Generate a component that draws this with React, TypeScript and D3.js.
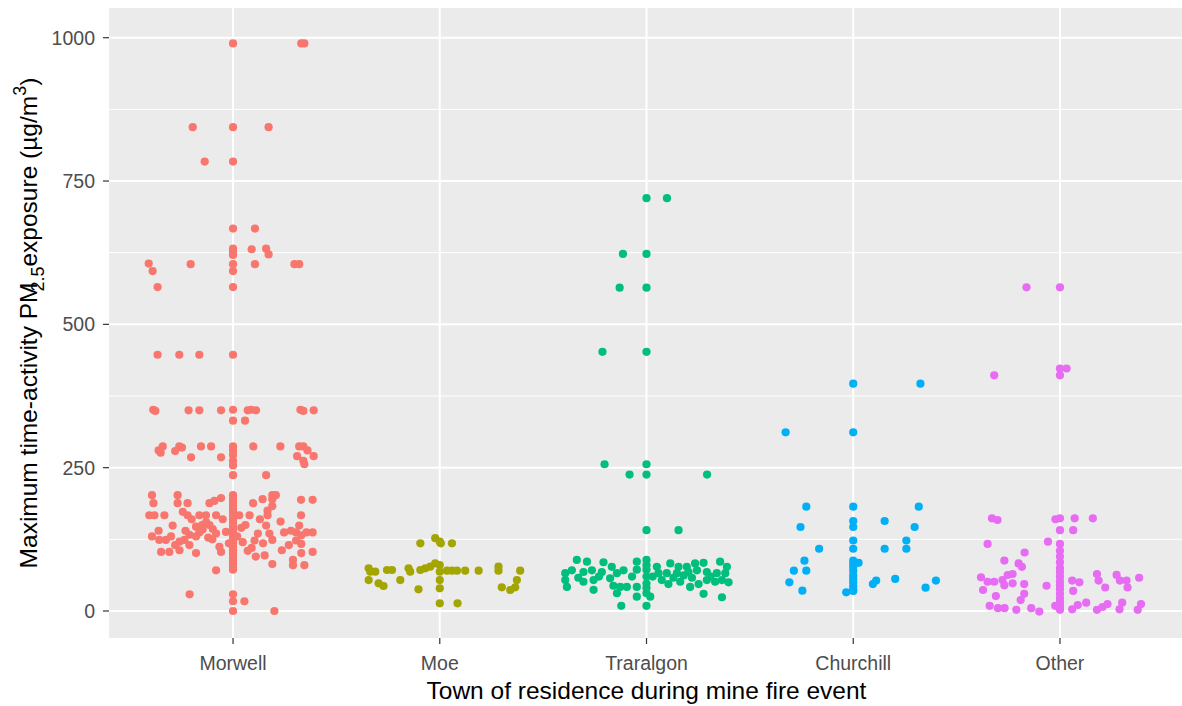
import React from 'react';
import * as d3 from 'd3';

const categories = ['Morwell', 'Moe', 'Traralgon', 'Churchill', 'Other'];
const colors = ['#F8766D', '#A3A500', '#00BF7D', '#00B0F6', '#E76BF3'];
const yTicks = [0, 250, 500, 750, 1000];
const yMinor = [125, 375, 625, 875];

// [jitter offset (in category steps), PM2.5 value]
const morwell: [number, number][] = [
  [0, 990], [0.33, 990], [0.345, 990],
  [-0.195, 844], [0, 844], [0.172, 844],
  [-0.137, 784], [0, 784],
  [0, 667], [0.106, 667],
  [0, 632], [0, 627], [0, 621], [0.09, 631], [0.16, 632], [0.172, 622],
  [-0.408, 606], [-0.389, 593], [-0.365, 565], [-0.205, 605], [0, 605], [0, 593], [0, 565],
  [0.106, 605], [0.297, 605], [0.32, 605],
  [-0.365, 447], [-0.26, 447], [-0.163, 447], [0, 447],
  [-0.386, 351], [-0.376, 349], [-0.215, 350], [-0.163, 350], [-0.058, 350], [0, 351],
  [0.071, 350], [0.087, 351], [0.111, 350], [0.326, 351], [0.34, 349], [0.39, 350],
  [0, 332], [0.058, 332],
  [-0.36, 280], [-0.34, 287], [-0.35, 276], [-0.28, 279], [-0.26, 287], [-0.247, 285],
  [-0.155, 287], [-0.106, 287], [0, 287], [0, 280], [0, 272], [0, 262], [0, 254],
  [0.098, 287], [0.229, 287], [0.32, 287], [0.34, 287], [0.36, 280],
  [-0.203, 268], [-0.058, 268], [0.31, 270], [0.34, 262], [0.39, 270], [0.345, 256],
  [0, 237], [0.16, 237],
  [0, 202], [0, 196], [0, 190], [0, 184], [0, 178], [0, 172], [0, 166], [0, 160], [0, 154],
  [0, 148], [0, 142], [0, 136], [0, 130], [0, 124], [0, 118], [0, 112], [0, 106], [0, 100],
  [0, 94], [0, 88], [0, 82], [0, 76], [0, 72],
  [-0.392, 202], [-0.385, 188], [-0.268, 202], [-0.268, 188], [-0.22, 188],
  [-0.405, 167], [-0.38, 167], [-0.332, 167], [-0.243, 173], [-0.22, 167],
  [-0.292, 149], [-0.163, 167], [-0.131, 167], [-0.082, 167],
  [-0.114, 188], [-0.09, 192], [-0.058, 197],
  [0.03, 167], [0.097, 188], [0.143, 195], [0.19, 202], [0.207, 202], [0.19, 195], [0.19, 183],
  [0.167, 175], [0.167, 167], [0.08, 167],
  [0.23, 156], [0.247, 137], [0.16, 149], [0.176, 135], [0.19, 124],
  [0.329, 194], [0.385, 194], [0.329, 167], [0.32, 149],
  [0.305, 137], [0.33, 132], [0.355, 137], [0.385, 137], [0.305, 123], [0.33, 117],
  [0.385, 103], [0.33, 101], [0.29, 89], [0.345, 80],
  [-0.392, 130], [-0.357, 124], [-0.325, 124],
  [-0.348, 103], [-0.308, 103], [-0.259, 106], [-0.211, 115],
  [-0.259, 121], [-0.235, 124], [-0.211, 133],
  [-0.179, 147], [-0.163, 137], [-0.179, 130], [-0.147, 142],
  [-0.114, 150], [-0.098, 143], [-0.082, 135],
  [-0.179, 101], [-0.082, 71], [-0.066, 112], [-0.058, 103], [-0.034, 138],
  [0.047, 120], [0.071, 105], [0.104, 123], [0.11, 95], [0.09, 110],
  [0.145, 118], [0.153, 97], [0.19, 82], [0.236, 106], [0.29, 80],
  [-0.13, 155], [-0.15, 150], [-0.12, 128], [-0.1, 125], [-0.05, 160], [0.04, 145],
  [0.06, 150], [0.02, 130], [-0.02, 118], [0.12, 135], [0.13, 160], [-0.2, 160],
  [-0.23, 140], [-0.28, 115], [0.27, 115], [0.28, 140], [-0.3, 130], [-0.36, 140],
  [-0.21, 29], [0, 29], [0, 17], [0, 0], [0.055, 17], [0.2, 0],
];

const moe: [number, number][] = [
  [-0.094, 118], [-0.022, 127], [0, 121], [0.005, 118], [0.059, 118],
  [-0.344, 74.5], [-0.336, 68.6], [-0.344, 54], [-0.312, 68.6], [-0.296, 48.3], [-0.272, 43.6],
  [-0.255, 71.5], [-0.231, 71.5], [-0.191, 54], [-0.151, 74.5], [-0.143, 68.6], [-0.103, 37.8],
  [-0.094, 71.5], [-0.07, 74.5], [-0.046, 77.3], [-0.022, 83.2], [0, 80.2], [0, 68.6],
  [0, 54], [0, 39.6], [0.035, 70.3], [0.059, 70.3], [0.083, 70.3], [0.123, 70.3],
  [0.188, 70.3], [0.284, 77.3], [0.284, 70.3], [0.389, 70.3], [0.373, 54], [0.365, 41.3],
  [0.341, 36.6], [0.3, 41.3], [0, 13.4], [0.086, 13.4],
];

const traralgon: [number, number][] = [
  [0, 720], [0.099, 720], [-0.114, 623], [0, 623], [-0.13, 564], [0, 564],
  [-0.213, 452], [0, 452],
  [-0.203, 256], [0, 256], [-0.082, 238], [0, 238], [0.293, 238], [0, 141], [0.155, 141],
  [-0.122, 9], [0, 9], [0.276, 30], [0.365, 24],
  [-0.337, 89], [-0.288, 86], [-0.208, 85], [-0.168, 77], [-0.047, 86], [0, 89], [0.05, 77],
  [0.115, 83], [0.155, 77], [0.195, 77], [0.235, 83], [0.276, 84], [0.356, 86], [0.389, 77],
  [-0.393, 66], [-0.361, 71], [-0.305, 68], [-0.264, 71], [-0.216, 68], [-0.143, 66],
  [-0.111, 71], [-0.047, 72], [0, 72], [0.058, 66], [0.098, 66], [0.147, 66], [0.203, 68],
  [0.244, 71], [0.292, 68], [0.34, 66], [0.381, 66],
  [-0.393, 54], [-0.385, 42], [-0.305, 51], [-0.256, 54], [-0.256, 37], [-0.176, 57],
  [-0.16, 44], [-0.127, 42], [-0.095, 42], [-0.143, 31], [-0.047, 42], [0, 48], [0, 31],
  [-0.047, 25], [0.018, 25], [0.074, 54], [0.106, 47], [0.163, 51], [0.211, 42], [0.252, 47],
  [0.292, 54], [0.332, 51], [0.365, 54], [0.397, 50],
  [0, 60], [0, 80], [0, 40], [0.03, 60], [-0.07, 60], [0.13, 58], [0.18, 62], [0.22, 58],
  [0.31, 60], [-0.23, 60], [-0.33, 58],
];

const churchill: [number, number][] = [
  [0, 396.5], [0.325, 396.5], [-0.327, 311.6], [0, 311.6],
  [-0.227, 182], [0, 182], [0.317, 182],
  [-0.255, 146.5], [0, 157], [0, 146.5], [0.152, 157], [0.297, 146.5],
  [0, 123], [0, 108.6], [0.257, 123], [0.257, 108.6], [-0.165, 108.6], [0.152, 108.6],
  [-0.236, 87.7], [-0.287, 70.3], [-0.227, 70.3], [-0.309, 50], [-0.246, 35.4],
  [0, 87.7], [0, 82], [0, 77], [0, 70], [0, 62], [0, 56], [0, 50], [0, 43], [0, 37], [0, 35],
  [0.026, 84], [-0.034, 32.6], [0.095, 47], [0.111, 53], [0.203, 56], [0.35, 40.7], [0.4, 53],
];

const other: [number, number][] = [
  [-0.162, 564.6], [0, 564.6], [-0.318, 411], [0, 423], [0.032, 423], [0, 411],
  [-0.329, 161.7], [-0.302, 158.7], [-0.022, 160], [0, 161.7], [0.071, 161.7], [0.159, 161.7],
  [0, 141], [0.064, 141], [-0.35, 117], [-0.058, 121],
  [0, 117], [0, 105], [0, 95], [0, 85], [0, 75], [0, 68], [0, 60], [0, 52], [0, 45], [0, 38],
  [0, 30], [0, 22], [0, 15], [0, 8], [0, 2],
  [-0.171, 102], [-0.269, 88], [-0.2, 83], [-0.184, 77],
  [-0.382, 58.8], [-0.35, 51], [-0.318, 51], [-0.278, 54], [-0.253, 62.8], [-0.229, 64.5],
  [-0.269, 45], [-0.229, 48.3],
  [-0.372, 36.6], [-0.31, 26], [-0.173, 47], [-0.173, 30], [-0.19, 19], [-0.065, 44],
  [-0.34, 9], [-0.3, 5], [-0.268, 5], [-0.211, 2], [-0.139, 5], [-0.1, -1], [-0.023, 9],
  [0.059, 53], [0.094, 50], [0.064, 35],
  [0.179, 64.5], [0.187, 53], [0.219, 41],
  [0.274, 63], [0.29, 53], [0.322, 53], [0.327, 41], [0.383, 58],
  [0.059, 3], [0.086, 10.5], [0.127, 14.5], [0.179, 2], [0.206, 7], [0.23, 12],
  [0.288, 3], [0.301, 14.5], [0.376, 2], [0.392, 12],
];

const seriesData = [morwell, moe, traralgon, churchill, other];

export default function App() {
  const W = 1182;
  const H = 706;
  const left = 109, right = 1184, top = 8, bottom = 638;
  const x = d3.scalePoint<string>().domain(categories).range([left, right]).padding(0.6);
  const y = d3.scaleLinear().domain([-47.1, 1051.8]).range([bottom, top]);
  const step = x.step();
  const font = '"Liberation Sans", Arial, sans-serif';
  const midY = (top + bottom) / 2;
  const midX = (left + right) / 2;

  return (
    <svg width={W} height={H} style={{ position: 'absolute', left: 0, top: 0, background: '#fff' }}>
      <defs>
        <clipPath id="panel">
          <rect x={left} y={top} width={right - left} height={bottom - top} />
        </clipPath>
      </defs>
      <rect x={left} y={top} width={right - left} height={bottom - top} fill="#EBEBEB" />
      {yMinor.map((t) => (
        <line key={'mi' + t} x1={left} x2={right} y1={y(t)} y2={y(t)} stroke="#fff" strokeWidth={1} />
      ))}
      {yTicks.map((t) => (
        <line key={'ma' + t} x1={left} x2={right} y1={y(t)} y2={y(t)} stroke="#fff" strokeWidth={2} />
      ))}
      {categories.map((c) => (
        <line key={'v' + c} x1={x(c)} x2={x(c)} y1={top} y2={bottom} stroke="#fff" strokeWidth={2} />
      ))}
      <g clipPath="url(#panel)">
        {seriesData.map((arr, i) =>
          arr.map((d, j) => (
            <circle
              key={i + '-' + j}
              cx={(x(categories[i]) as number) + d[0] * step}
              cy={y(d[1])}
              r={4.1}
              fill={colors[i]}
            />
          ))
        )}
      </g>
      {yTicks.map((t) => (
        <g key={'yt' + t}>
          <line x1={left - 6} x2={left} y1={y(t)} y2={y(t)} stroke="#333" strokeWidth={1.2} />
          <text x={95} y={y(t)} dy="0.36em" textAnchor="end" fontFamily={font} fontSize={19.5} fill="#4D4D4D">
            {t}
          </text>
        </g>
      ))}
      {categories.map((c) => (
        <g key={'xt' + c}>
          <line x1={x(c)} x2={x(c)} y1={bottom} y2={bottom + 6} stroke="#333" strokeWidth={1.2} />
          <text x={x(c)} y={670} textAnchor="middle" fontFamily={font} fontSize={19.5} fill="#4D4D4D">
            {c}
          </text>
        </g>
      ))}
      <text x={midX} y={699} textAnchor="middle" fontFamily={font} fontSize={24.5} fill="#000">
        Town of residence during mine fire event
      </text>
      <text
        transform={`translate(37,${midY}) rotate(-90)`}
        textAnchor="middle"
        fontFamily={font}
        fontSize={24.5}
        fill="#000"
      >
        <tspan>Maximum time-activity PM</tspan>
        <tspan fontSize={18} dx={-9} dy={7}>2.5</tspan>
        <tspan dy={-7}>exposure (µg/m</tspan>
        <tspan fontSize={18} dy={-11}>3</tspan>
        <tspan dy={11}>)</tspan>
      </text>
    </svg>
  );
}
